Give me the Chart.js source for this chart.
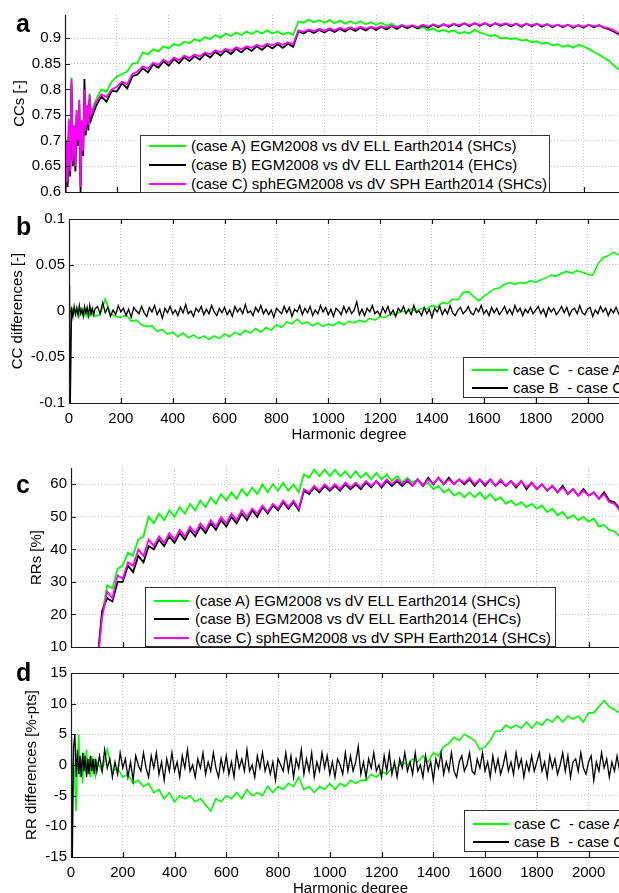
<!DOCTYPE html>
<html>
<head>
<meta charset="utf-8">
<script src="https://cdn.jsdelivr.net/npm/chart.js@4.4.1/dist/chart.umd.min.js"></script>
<style>
  html, body { margin: 0; padding: 0; background: #fff; }
  body { width: 619px; height: 893px; overflow: hidden; position: relative; font-family: 'Liberation Sans', Arial, sans-serif; }
  canvas { position: absolute; left: 0; }
  .tag { position: absolute; left: 16px; font-weight: bold; font-size: 25px; line-height: 25px; z-index: 2; }
  .legend { position: absolute; background: #fff; border: 1px solid #333; box-sizing: border-box; font-size: 15px; z-index: 3; }
  .legend .txt { position: absolute; height: 18px; line-height: 18px; white-space: pre; color: #000; }
  .legend .sw { position: absolute; height: 2px; }
</style>
</head>
<body>
<canvas id="ca" width="625" height="205" style="top:0px"></canvas>
<canvas id="cb" width="629" height="245" style="top:200px"></canvas>
<canvas id="cc" width="630" height="210" style="top:450px"></canvas>
<canvas id="cd" width="630" height="244" style="top:655px"></canvas>
<div class="tag" style="top:11px">a</div>
<div class="tag" style="top:214px">b</div>
<div class="tag" style="top:472px">c</div>
<div class="tag" style="top:660px">d</div>
<script>
// tick positions
const xTicks = [0,200,400,600,800,1000,1200,1400,1600,1800,2000];
const ccTicks = [0.6,0.65,0.7,0.75,0.8,0.85,0.9];
const ccDiffTicks = [-0.1,-0.05,0,0.05,0.1];
const rrTicks = [10,20,30,40,50,60];
const rrDiffTicks = [-15,-10,-5,0,5,10,15];

const degrees = [2,5,10,15,20,25,30,35,40,45,50,55,60,65,70,75,80,85,90,95,100,
  120,140,160,180,200,220,240,260,280,300,
  320,340,360,380,400,420,440,460,480,500,
  520,540,560,580,600,620,640,660,680,700,
  720,740,760,780,800,820,840,860,880,900,
  920,940,960,980,1000,1020,1040,1060,1080,1100,
  1120,1140,1160,1180,1200,1220,1240,1260,1280,1300,
  1320,1340,1360,1380,1400,1420,1440,1460,1480,1500,
  1520,1540,1560,1580,1600,1620,1640,1660,1680,1700,
  1720,1740,1760,1780,1800,1820,1840,1860,1880,1900,
  1920,1940,1960,1980,2000,2020,2040,2060,2080,2100,
  2120,2140,2160];

// finer degrees for the noisy "case B - case C" differences
const noiseDegrees = [2,5,10,15,20,25,30,35,40,45,50,55,60,65,70,75,80,85,90,95,100,
  110,120,130,140,150,160,170,180,190,200,
  210,220,230,240,250,260,270,280,290,300,
  310,320,330,340,350,360,370,380,390,400,
  410,420,430,440,450,460,470,480,490,500,
  510,520,530,540,550,560,570,580,590,600,
  610,620,630,640,650,660,670,680,690,700,
  710,720,730,740,750,760,770,780,790,800,
  810,820,830,840,850,860,870,880,890,900,
  910,920,930,940,950,960,970,980,990,1000,
  1010,1020,1030,1040,1050,1060,1070,1080,1090,1100,
  1110,1120,1130,1140,1150,1160,1170,1180,1190,1200,
  1210,1220,1230,1240,1250,1260,1270,1280,1290,1300,
  1310,1320,1330,1340,1350,1360,1370,1380,1390,1400,
  1410,1420,1430,1440,1450,1460,1470,1480,1490,1500,
  1510,1520,1530,1540,1550,1560,1570,1580,1590,1600,
  1610,1620,1630,1640,1650,1660,1670,1680,1690,1700,
  1710,1720,1730,1740,1750,1760,1770,1780,1790,1800,
  1810,1820,1830,1840,1850,1860,1870,1880,1890,1900,
  1910,1920,1930,1940,1950,1960,1970,1980,1990,2000,
  2010,2020,2030,2040,2050,2060,2070,2080,2090,2100,
  2110,2120,2130,2140,2150,2160];

// panel a: correlation coefficients
const ccCaseA = [0.60,0.702,0.617,0.744,0.638,0.823,0.656,0.731,0.655,0.758,0.703,0.779,0.614,0.74,0.686,0.802,0.725,0.769,0.734,0.792,0.756,
  0.78,0.80,0.795,0.815,0.825,0.83,0.835,0.85,0.852,0.872,
  0.868,0.878,0.874,0.884,0.88,0.889,0.885,0.893,0.89,0.898,
  0.894,0.902,0.898,0.906,0.901,0.909,0.904,0.911,0.906,0.913,
  0.908,0.914,0.909,0.915,0.909,0.913,0.907,0.911,0.906,0.932,
  0.93,0.936,0.931,0.935,0.93,0.935,0.929,0.934,0.928,0.933,
  0.928,0.933,0.927,0.931,0.926,0.93,0.924,0.928,0.922,0.926,
  0.92,0.924,0.918,0.922,0.915,0.919,0.913,0.916,0.912,0.915,
  0.909,0.912,0.909,0.916,0.911,0.908,0.904,0.906,0.899,0.901,
  0.898,0.9,0.895,0.897,0.892,0.894,0.889,0.891,0.886,0.888,
  0.883,0.886,0.881,0.887,0.884,0.879,0.873,0.868,0.861,0.855,
  0.845,0.838,0.83];
const ccCaseB = [0.59,0.69,0.61,0.73,0.63,0.81,0.65,0.72,0.64,0.75,0.69,0.77,0.60,0.73,0.67,0.82,0.71,0.76,0.72,0.78,0.74,
  0.768,0.786,0.776,0.797,0.796,0.812,0.802,0.826,0.829,0.841,
  0.833,0.849,0.842,0.855,0.846,0.859,0.851,0.863,0.855,0.865,
  0.858,0.869,0.862,0.873,0.866,0.876,0.869,0.879,0.872,0.881,
  0.875,0.884,0.877,0.886,0.88,0.888,0.881,0.889,0.883,0.913,
  0.909,0.915,0.91,0.916,0.911,0.917,0.912,0.918,0.913,0.919,
  0.914,0.92,0.915,0.921,0.916,0.922,0.917,0.923,0.918,0.924,
  0.919,0.924,0.919,0.925,0.92,0.926,0.921,0.927,0.922,0.927,
  0.923,0.929,0.923,0.929,0.924,0.929,0.923,0.929,0.924,0.928,
  0.923,0.928,0.922,0.928,0.923,0.928,0.922,0.927,0.921,0.926,
  0.921,0.926,0.92,0.925,0.92,0.926,0.921,0.925,0.92,0.917,
  0.912,0.906,0.901];
const ccCaseC = [0.60,0.70,0.62,0.74,0.64,0.82,0.66,0.73,0.65,0.76,0.70,0.78,0.61,0.74,0.68,0.80,0.72,0.77,0.73,0.79,0.75,
  0.775,0.79,0.785,0.80,0.805,0.815,0.81,0.83,0.835,0.845,
  0.84,0.852,0.848,0.858,0.852,0.862,0.857,0.866,0.861,0.868,
  0.864,0.872,0.868,0.876,0.872,0.879,0.875,0.882,0.878,0.884,
  0.881,0.887,0.883,0.889,0.886,0.891,0.887,0.892,0.888,0.915,
  0.912,0.917,0.913,0.918,0.914,0.919,0.915,0.92,0.916,0.921,
  0.917,0.922,0.918,0.922,0.919,0.923,0.92,0.924,0.921,0.925,
  0.922,0.925,0.921,0.926,0.922,0.927,0.923,0.927,0.924,0.928,
  0.925,0.929,0.925,0.929,0.926,0.929,0.925,0.929,0.926,0.929,
  0.925,0.928,0.924,0.928,0.925,0.928,0.924,0.927,0.923,0.926,
  0.923,0.926,0.922,0.925,0.922,0.926,0.923,0.925,0.921,0.919,
  0.914,0.908,0.903];

// panel b: CC differences
const ccDiffCA = [0,-0.002,0.003,-0.004,0.002,-0.003,0.004,-0.001,-0.005,0.002,-0.003,0.001,-0.004,0,-0.006,-0.002,-0.005,0.001,-0.004,-0.002,-0.006,
  -0.004,0.013,-0.003,-0.006,-0.007,-0.004,-0.011,-0.010,-0.015,-0.017,
  -0.016,-0.022,-0.020,-0.025,-0.023,-0.028,-0.024,-0.029,-0.026,-0.030,
  -0.027,-0.031,-0.027,-0.030,-0.025,-0.028,-0.023,-0.026,-0.021,-0.024,
  -0.019,-0.023,-0.018,-0.021,-0.015,-0.018,-0.012,-0.014,-0.009,-0.014,
  -0.012,-0.016,-0.013,-0.017,-0.014,-0.016,-0.012,-0.015,-0.011,-0.013,
  -0.010,-0.012,-0.008,-0.010,-0.006,-0.007,-0.003,-0.004,0.000,-0.001,
  0.002,0.000,0.003,0.002,0.006,0.004,0.009,0.008,0.013,0.012,
  0.020,0.021,0.016,0.011,0.016,0.020,0.024,0.025,0.029,0.031,
  0.029,0.031,0.030,0.033,0.031,0.034,0.036,0.039,0.038,0.041,
  0.043,0.041,0.044,0.042,0.040,0.039,0.051,0.058,0.060,0.064,
  0.061,0.063,0.060];
const ccDiffBC = [0.028,-0.1,0.004,-0.006,0.005,-0.004,0.003,-0.005,0.006,-0.003,0.002,-0.006,0.005,-0.002,0.004,-0.005,0.006,-0.003,0.003,-0.004,0.002,
  0.005,-0.003,0.009,-0.002,0.004,-0.006,0.001,-0.004,0.006,-0.001,
  0.003,-0.005,0.002,-0.007,0.004,0,-0.003,0.005,-0.002,-0.006,
  0.004,-0.001,0.006,-0.004,0.002,-0.008,0.003,-0.002,0.005,-0.003,
  0.001,-0.005,0.004,-0.002,0.007,-0.003,0,-0.006,0.003,-0.001,
  0.005,-0.004,0.002,-0.003,0.006,-0.001,-0.005,0.003,-0.002,0.004,
  -0.004,0.001,-0.006,0.005,-0.001,0.003,-0.003,0.007,-0.002,0,
  -0.005,0.004,-0.001,0.006,-0.003,0.002,-0.004,0.001,-0.007,0.003,
  0,-0.003,0.005,-0.002,0.004,-0.006,0.002,-0.001,0.006,-0.004,
  0.003,-0.002,0.005,-0.005,0.001,-0.003,0.006,-0.001,0.004,-0.004,
  0.002,-0.006,0.003,0,-0.004,0.005,-0.002,0.004,-0.003,0.001,
  0.010,-0.004,0.002,-0.005,0.003,-0.001,0.006,-0.003,0,-0.005,
  0.004,-0.002,0.005,-0.004,0.001,-0.006,0.003,-0.001,0.005,-0.003,
  0.002,-0.004,0.006,-0.002,0,-0.005,0.004,-0.003,0.002,-0.007,
  0.003,-0.001,0.005,-0.004,0.002,-0.003,0.006,-0.002,-0.005,0.001,
  0.004,-0.003,0,0.005,-0.002,-0.004,0.003,-0.001,0.006,-0.003,
  0.001,-0.005,0.004,-0.002,0.003,-0.004,0,0.005,-0.003,0.002,
  -0.004,0.006,-0.001,0.003,-0.005,0.002,-0.002,0.004,-0.003,0.001,
  0.005,-0.003,0.002,-0.006,0.004,-0.001,0.003,-0.004,0,0.005,
  -0.002,0.004,-0.005,0.001,0.003,-0.003,0.006,-0.002,-0.004,0.002,
  0.004,-0.006,0.001,-0.003,0.005,-0.001,0.003,-0.005,0.002,-0.002,
  0.004,-0.003,0.001,-0.005,0.003,-0.001];

// panel c: RRs [%]
const rrCaseA = [-6,-4,-5,-3,-4,-2,-3,-1,-2,0,-1,1,0,2,1,3,2,4,3,5,2,
  20,29,28,34,35,39,38,43,44,50,
  48,51,49,52,50,53,51,54,52,55,
  53,56,54,57,55,57.5,55.5,58.5,56.5,59,
  57,60,57.5,60,58,60.5,58,60,57.5,63,
  62,64.5,62.5,64.5,62.5,64.5,62.5,64,62,64,
  62,63.5,61.5,63.5,61.5,63,61,62.5,60.5,62,
  60.5,61.5,59.5,60.5,58.5,59.5,57.5,58.5,56.5,57.5,
  56,57.5,56,57.5,55.5,57,55,56,54,55,
  53.5,54.5,53,54,52.5,53.5,51.5,52.5,50.5,51.5,
  49.5,50.5,49,50,48.5,49.5,47,47.5,46,45.5,
  44,43,42];
const rrCaseB = [-6,-4,-5,-3,-4,-2,-3,-1,-2,0,-1,1,0,2,1,3,2,4,3,5,4,
  21,25,24,30,30,35,33,38,36,41,
  40,43,41,44,42,45,43,46,44,47,
  45,48,46,49,47,50,48,51,49,52,
  50,53,51,53.5,52,54.5,52.5,54.5,52,58,
  57,59,57.5,59.5,58,59.5,58,60,58.5,60,
  58.5,60.5,59,61,59,61,59.5,61,59.5,61,
  59.5,61.5,59.5,62,60,62,60,62,60,61.5,
  60,61.5,59.5,61.5,59.5,61.5,59.5,61,59.5,61,
  59,61,58.5,60.5,58.5,60,58,59.5,57.5,59.5,
  57,58.5,56.5,58.5,56.5,57.5,55.5,57.5,55,54.5,
  52.5,51.5,50.5];
const rrCaseC = [-5,-3,-4,-2,-3,-1,-2,0,-1,1,0,2,1,3,2,4,3,5,4,6,3,
  19,27,25,32,31,36,35,40,38,43,
  41,44,42,45,43,46,44,47,45,48,
  46,49,47,50,48,51,49,52,50,52.5,
  51,53.5,51.5,54,52.5,55,53,55,52.5,58.5,
  57.5,59.5,58,60,58.5,60,58.5,60.5,59,60.5,
  59,61,59.5,61,59.5,61.5,60,61.5,60,61.5,
  59.5,61.5,59.5,61.5,60,62,60,61.5,60,61.5,
  60.5,62,60,61.5,60,61.5,59.5,61.5,59.5,61,
  59.5,61,59,60.5,58.5,60,58,59.5,57.5,59,
  57,58.5,56.5,58,56.5,57.5,55.5,57,54.5,54,
  52,51,50];

// panel d: RR differences [%-pts]
const rrDiffCA = [0.5,-1.5,1,-3,-7.5,1,5,-2,1,-3,2,-1,2.5,-1.5,1,-2,1.5,-1,0.5,-1.5,0.5,
  -1,2.5,-1,-0.5,-2,-1.5,-3,-2.5,-3.5,-3,
  -4.5,-4,-5.5,-4.5,-6,-5,-5.5,-5,-6,-5.5,
  -6.5,-7.5,-5.5,-6,-5,-5.5,-4.5,-5.5,-4,-5,
  -4.5,-5,-3.5,-4.5,-3.5,-4,-3,-3.5,-2,-4,
  -3.5,-4.5,-3.5,-4,-3,-4,-3,-3.5,-2.5,-3,
  -2.5,-2.5,-1.5,-2,-1,-1.5,-0.5,-0.5,0.5,0,
  1,0.5,1.5,0.5,2,1.5,3,3.5,4.5,4,
  5,4.5,4,2.5,3,4,5.5,5.5,6.5,6,
  6.5,6,7,6,7,6.5,7.5,7,8,7,
  8,7.5,8,7,8.5,8.5,9.5,10.5,9.5,9,
  8.5,9,8.5];
const rrDiffBC = [4.5,-16,3,5,-2,2.5,-1.5,1.5,-2,2,-1,1.5,-2,1,-1.5,1.5,-1,1,-1.5,1,-1,
  1.5,-1,2.5,-0.5,1,-2,0.5,-1.5,2,-0.5,
  1,-2,0.5,-2.5,1.5,0,-1,2,-0.5,-2,
  1.5,-0.5,2,-1.5,0.5,-2.5,1,-1,2,-1,
  0.5,-2,1.5,-0.5,2.5,-1,0,-2,1,-0.5,
  2,-1.5,0.5,-1,2,-0.5,-2,1,-1,1.5,
  -1.5,0.5,-2,2,-0.5,1,-1,2.5,-1,0,
  -2,1.5,-0.5,2,-1,0.5,-1.5,0.5,-2.5,1,
  0,-1,2,-1,1.5,-2,1,-0.5,2.5,-1.5,
  1,-1,2,-2,0.5,-1,2,-0.5,1.5,-1.5,
  0.5,-2,1,0,-1.5,2,-1,1.5,-1,0.5,
  3,-1.5,0.5,-2,1,-0.5,2,-1,0,-2,
  1.5,-1,2,-1.5,0.5,-2,1,-0.5,2,-1,
  0.5,-1.5,2,-1,0,-2,1.5,-1,0.5,-2.5,
  1,-0.5,2,-1.5,0.5,-1,2,-1,-2,0.5,
  1.5,-1,0,2,-1,-1.5,1,-0.5,2,-1,
  0.5,-2,1.5,-1,1,-1.5,0,2,-1,0.5,
  -1.5,2,-0.5,1,-2,0.5,-1,1.5,-1,0.5,
  2,-1,0.5,-2,1.5,-0.5,1,-1.5,0,2,
  -1,1.5,-2,0.5,1,-1,2,-0.5,-1.5,0.5,
  1.5,-2.5,0.5,-1,2,-0.5,1,-2,0.5,-1,
  1.5,-1,0.5,-2,1,-0.5];

const caseLabels = ['(case A) EGM2008 vs dV ELL Earth2014 (SHCs)',
  '(case B) EGM2008 vs dV ELL Earth2014 (EHCs)',
  '(case C) sphEGM2008 vs dV SPH Earth2014 (SHCs)'];
const diffLabels = ['case C  - case A', 'case B  - case C'];
const GREEN = '#00ff00', BLACK = '#000000', MAGENTA = '#ff00ff';
const FONT = { family: "'Liberation Sans', Arial, sans-serif", size: 15 };

// MATLAB-like frame: solid left/bottom axes, inward ticks, optional top line
const frame = {
  id: 'frame',
  afterDraw(chart, args, opts) {
    const { ctx, chartArea: a, scales: { x, y } } = chart;
    ctx.save();
    ctx.strokeStyle = '#1a1a1a';
    ctx.lineWidth = 1.2;
    ctx.beginPath();
    ctx.moveTo(a.left + 0.5, a.top);
    ctx.lineTo(a.left + 0.5, a.bottom + 0.5);
    ctx.lineTo(a.right, a.bottom + 0.5);
    if (opts.top) { ctx.moveTo(a.left, a.top + 0.5); ctx.lineTo(a.right, a.top + 0.5); }
    x.ticks.forEach(t => {
      const px = Math.round(x.getPixelForValue(t.value)) + 0.5;
      ctx.moveTo(px, a.bottom); ctx.lineTo(px, a.bottom - 5);
      if (opts.top) { ctx.moveTo(px, a.top); ctx.lineTo(px, a.top + 5); }
    });
    y.ticks.forEach(t => {
      const py = Math.round(y.getPixelForValue(t.value)) + 0.5;
      ctx.moveTo(a.left, py); ctx.lineTo(a.left + 5, py);
    });
    ctx.stroke();
    ctx.restore();
  }
};

function panel(id, o) {
  new Chart(document.getElementById(id), {
    type: 'line',
    data: {
      datasets: o.series.map(s => ({
        label: s.label,
        data: (s.x || degrees).map((d, k) => ({ x: d, y: s.values[k] })),
        borderColor: s.color,
        borderWidth: s.width || 1.8,
        pointRadius: 0,
        tension: 0,
        order: s.order
      }))
    },
    options: {
      responsive: false,
      animation: false,
      events: [],
      layout: { padding: { top: o.padTop, bottom: o.padBottom, left: 0, right: 0 } },
      plugins: { legend: { display: false }, tooltip: { enabled: false }, frame: { top: o.boxTop } },
      scales: {
        x: {
          type: 'linear', min: 0, max: 2160,
          afterBuildTicks: s => { s.ticks = xTicks.map(v => ({ value: v })); },
          ticks: { display: o.xLabels, autoSkip: false, maxRotation: 0,
                   padding: 7, color: '#000', font: FONT, callback: v => String(v) },
          grid: { color: '#c4c4c4', lineWidth: 1, drawTicks: false },
          border: { display: false, dash: [1, 2] },
          title: { display: o.xLabels, text: 'Harmonic degree', color: '#000', font: FONT, padding: { top: 0, bottom: 1 } },
          afterFit: s => { s.height = o.xHeight; }
        },
        y: {
          min: o.yMin, max: o.yMax,
          afterBuildTicks: s => { s.ticks = o.yTicks.map(v => ({ value: v })); },
          ticks: { autoSkip: false, padding: 4, color: '#000', font: FONT, callback: v => String(v) },
          grid: { color: '#c4c4c4', lineWidth: 1, drawTicks: false },
          border: { display: false, dash: [1, 2] },
          title: { display: true, text: o.yTitle, color: '#000', font: FONT, padding: { top: o.yTitlePad, bottom: 0 } },
          afterFit: s => { s.width = o.left; }
        }
      }
    },
    plugins: [frame]
  });
}

function legend(left, top, width, height, labels, colors, rows, swL, swR, txtL) {
  const box = document.createElement('div');
  box.className = 'legend';
  Object.assign(box.style, { left: left + 'px', top: top + 'px', width: width + 'px', height: height + 'px' });
  labels.forEach((lab, i) => {
    const sw = document.createElement('div');
    sw.className = 'sw';
    Object.assign(sw.style, { left: swL + 'px', width: (swR - swL) + 'px', top: (rows[i] - 1) + 'px', background: colors[i] });
    const t = document.createElement('div');
    t.className = 'txt';
    t.textContent = lab;
    Object.assign(t.style, { left: txtL + 'px', top: (rows[i] - 9) + 'px' });
    box.appendChild(sw);
    box.appendChild(t);
  });
  document.body.appendChild(box);
}

panel('ca', {
  series: [
    { label: caseLabels[0], values: ccCaseA, color: GREEN, order: 3 },
    { label: caseLabels[1], values: ccCaseB, color: BLACK, order: 2 },
    { label: caseLabels[2], values: ccCaseC, color: MAGENTA, order: 1 }
  ],
  yMin: 0.6, yMax: 0.945, yTicks: ccTicks, yTitle: 'CCs [-]', yTitlePad: 11,
  left: 65, padTop: 15, padBottom: 8, xHeight: 0, xLabels: false, boxTop: false
});
panel('cb', {
  series: [
    { label: diffLabels[0], values: ccDiffCA, color: GREEN, order: 2, width: 1.6 },
    { label: diffLabels[1], values: ccDiffBC, x: noiseDegrees, color: BLACK, order: 1, width: 1.3 }
  ],
  yMin: -0.1, yMax: 0.1, yTicks: ccDiffTicks, yTitle: 'CC differences [-]', yTitlePad: 9,
  left: 69, padTop: 19, padBottom: 0, xHeight: 42, xLabels: true, boxTop: true
});
panel('cc', {
  series: [
    { label: caseLabels[0], values: rrCaseA, color: GREEN, order: 3 },
    { label: caseLabels[1], values: rrCaseB, color: BLACK, order: 2 },
    { label: caseLabels[2], values: rrCaseC, color: MAGENTA, order: 1 }
  ],
  yMin: 10, yMax: 65, yTicks: rrTicks, yTitle: 'RRs [%]', yTitlePad: 28,
  left: 71, padTop: 18, padBottom: 8, xHeight: 0, xLabels: false, boxTop: false
});
panel('cd', {
  series: [
    { label: diffLabels[0], values: rrDiffCA, color: GREEN, order: 2, width: 1.6 },
    { label: diffLabels[1], values: rrDiffBC, x: noiseDegrees, color: BLACK, order: 1, width: 1.3 }
  ],
  yMin: -15, yMax: 15, yTicks: rrDiffTicks, yTitle: 'RR differences [%-pts]', yTitlePad: 23,
  left: 71, padTop: 18, padBottom: 0, xHeight: 42, xLabels: true, boxTop: true
});

legend(140, 135, 410, 58, caseLabels, [GREEN, BLACK, MAGENTA], [10, 29, 48], 8, 45, 50);
legend(463, 357, 200, 41, diffLabels, [GREEN, BLACK], [12, 30], 8, 44, 49);
legend(145, 587, 411, 60, caseLabels, [GREEN, BLACK, MAGENTA], [13, 31, 50], 8, 43, 49);
legend(464, 810, 200, 42, diffLabels, [GREEN, BLACK], [13, 31], 8, 44, 49);
</script>
</body>
</html>
